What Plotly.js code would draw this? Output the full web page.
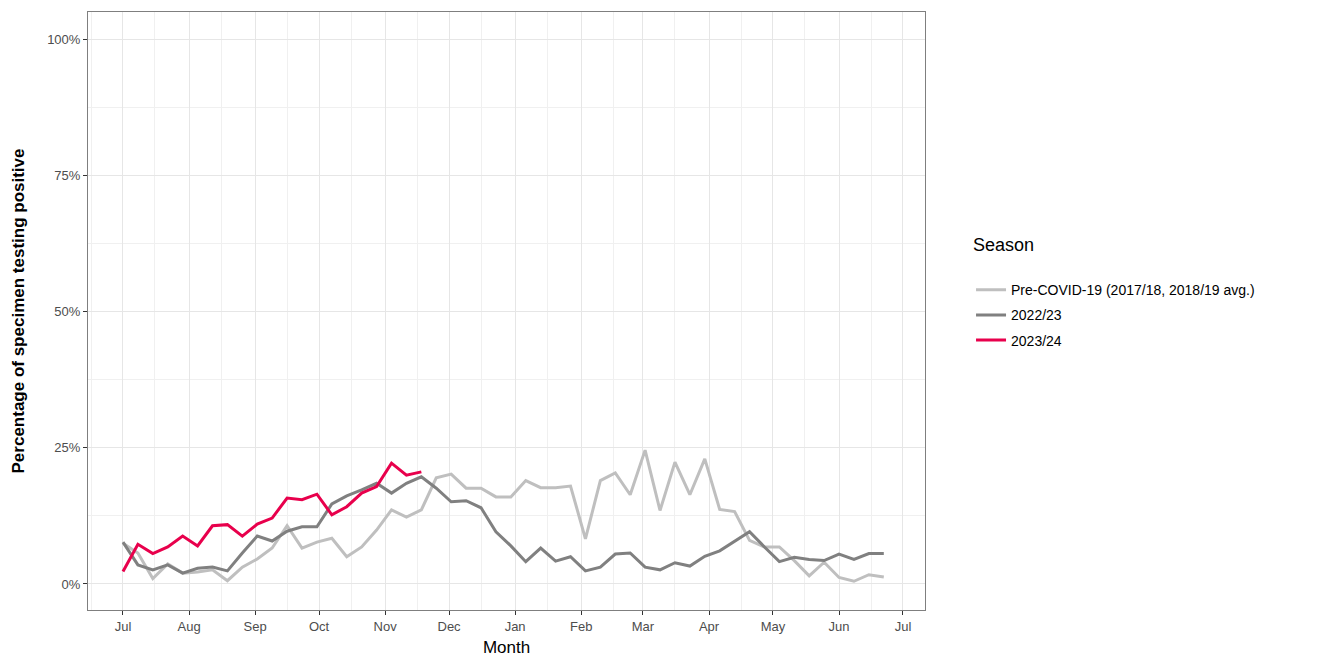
<!DOCTYPE html>
<html><head><script src="https://cdn.plot.ly/plotly-3.0.1.min.js"></script>
<style>body{margin:0}</style></head><body>
<div id="chart" style="width:1317px;height:657px"></div>
<script>
const startDate = '2023-07-01';
const preCovid = [7.5,5.7,1,3.7,2,2.2,2.6,0.6,3.1,4.6,6.6,10.7,6.6,7.7,8.4,5,6.8,9.9,13.6,12.3,13.6,19.5,20.2,17.6,17.6,16,16,
  19,17.7,17.7,18,8.3,19,20.4,16.4,24.6,13.5,22.4,16.4,23,13.7,13.3,8,6.8,6.8,4.3,1.5,4,1.2,0.5,1.7,1.3];
const s2223 = [7.7,3.5,2.6,3.5,2,2.9,3.1,2.4,5.7,8.8,7.9,9.7,10.5,10.5,14.7,16.2,17.3,18.5,16.7,18.5,19.7,17.6,15.1,15.3,14,9.6,7,
  4.1,6.6,4.2,5,2.4,3.1,5.5,5.7,3.1,2.6,3.9,3.3,5.1,6.1,7.9,9.6,6.8,4.1,4.9,4.5,4.3,5.5,4.5,5.6,5.6];
const s2324 = [2.3,7.3,5.6,6.8,8.8,7,10.7,10.9,8.8,11,12.1,15.8,15.5,16.5,12.7,14.2,16.7,17.9,22.2,20,20.6];
const seriesNames = ['Pre-COVID-19 (2017/18, 2018/19 avg.)','2022/23','2023/24'];
const colors = ['#bfbfbf','#808080','#e8004c'];
function weeks(n){const out=[];const d0=new Date(startDate+'T00:00:00Z');for(let i=0;i<n;i++){const d=new Date(d0.getTime()+i*7*86400000);out.push(d.toISOString().slice(0,10));}return out;}
const data=[preCovid,s2223,s2324].map((v,i)=>({x:weeks(v.length),y:v,type:'scatter',mode:'lines',name:seriesNames[i],legendgroup:'g'+i,line:{color:colors[i],width:3}}));
const layout={
  width:1317,height:657,margin:{l:88,r:392,t:12,b:47},
  paper_bgcolor:'white',plot_bgcolor:'white',
  font:{family:'Liberation Sans, Arial, sans-serif',color:'#000'},
  xaxis:{type:'date',range:['2023-06-14 14:00','2024-07-11 08:00'],dtick:'M1',tick0:'2023-07-01',tickformat:'%b',
    showgrid:true,gridcolor:'#e6e6e6',gridwidth:1.3,zeroline:false,ticks:'outside',ticklen:4,tickcolor:'#333',
    tickfont:{size:13,color:'#4d4d4d'},showline:true,mirror:true,linecolor:'#7f7f7f',linewidth:1,
    minor:{dtick:'M1',tick0:'2023-07-16',showgrid:true,gridcolor:'#f0f0f0',gridwidth:1},
    title:{text:'Month',font:{size:17},standoff:8}},
  yaxis:{range:[-4.78,105.1],tickvals:[0,25,50,75,100],ticktext:['0%','25%','50%','75%','100%'],
    showgrid:true,gridcolor:'#e6e6e6',gridwidth:1.3,zeroline:false,ticks:'outside',ticklen:4,tickcolor:'#333',
    tickfont:{size:13,color:'#4d4d4d'},showline:true,mirror:true,linecolor:'#7f7f7f',linewidth:1,
    minor:{tickvals:[12.5,37.5,62.5,87.5],showgrid:true,gridcolor:'#f0f0f0',gridwidth:1},
    title:{text:'<b>Percentage of specimen testing positive</b>',font:{size:17},standoff:18}},
  legend:{x:1.055,y:0.64,xanchor:'left',yanchor:'top',title:{text:'Season<br> ',font:{size:18}},font:{size:14},tracegroupgap:4},
  showlegend:true
};
Plotly.newPlot('chart',data,layout,{displayModeBar:false});
</script></body></html>
